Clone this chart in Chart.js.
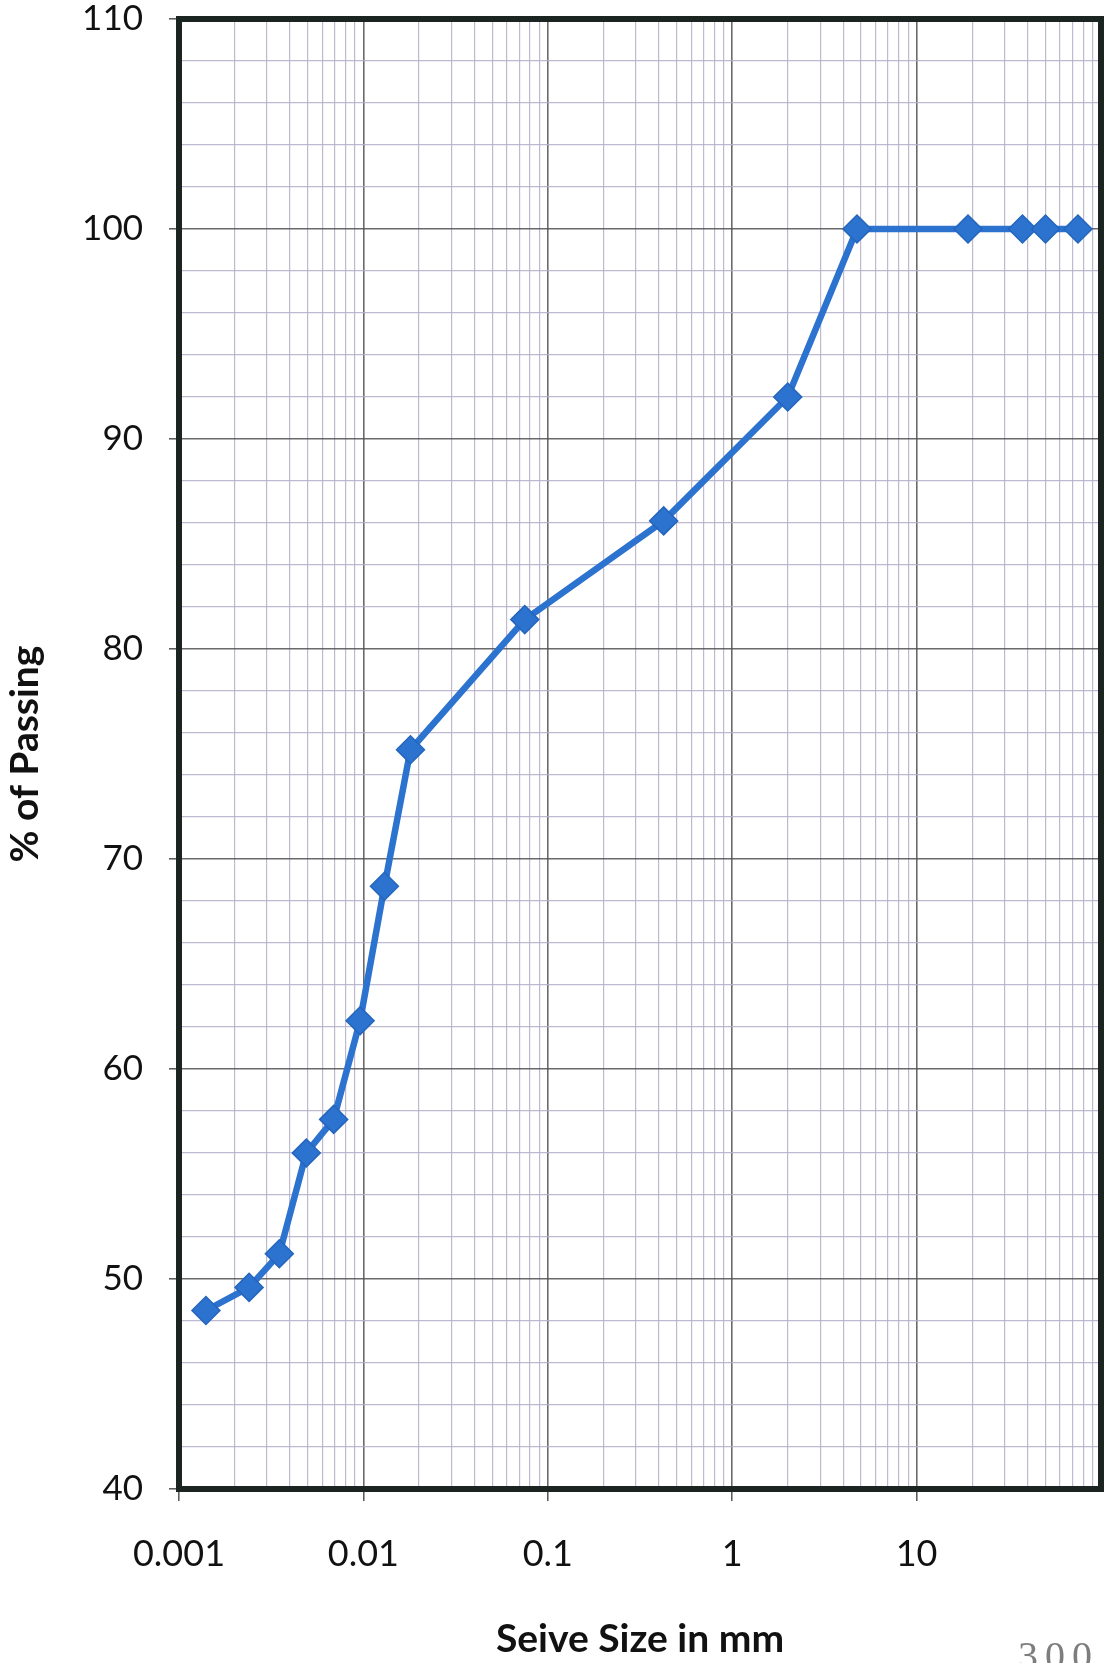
<!DOCTYPE html>
<html>
<head>
<meta charset="utf-8">
<title>Grain Size Distribution</title>
<script src="https://cdn.jsdelivr.net/npm/chart.js@4.4.1/dist/chart.umd.min.js"></script>
<style>
  html, body { margin: 0; padding: 0; background: #ffffff; }
  #wrap { position: relative; width: 1112px; height: 1663px; overflow: hidden; }
  #gradation { display: block; }
  #pageNo {
    position: absolute; left: 1018px; top: 1632px;
    font-family: "Liberation Serif", serif; font-size: 40px; letter-spacing: 7px;
    color: #7d7d7d;
  }
</style>
</head>
<body>
<div id="wrap">
  <canvas id="gradation" width="1112" height="1663"></canvas>
  <div id="pageNo">300</div>
</div>
<script>
// Sieve / hydrometer results
const sieveSize = [0.0014, 0.0024, 0.0035, 0.0049, 0.0069, 0.0096, 0.013, 0.018, 0.075, 0.425, 2.0, 4.75, 19, 37.5, 50, 75];
const percentPassing = [48.5, 49.6, 51.2, 56.0, 57.6, 62.3, 68.7, 75.2, 81.4, 86.1, 92.0, 100, 100, 100, 100, 100];

// Axis settings
const decadeLabels = [0.001, 0.01, 0.1, 1, 10];
const xMin = 0.001, xMax = 100;
const yMin = 40, yMax = 110, yMinorStep = 2, yMajorStep = 10;
const xTitle = 'Seive Size in mm';
const yTitle = '% of Passing';

// 1..9 x 10^n grid positions for the log axis
const logGridValues = [];
for (let e = -3; e <= 1; e++) {
  for (let k = 1; k <= 9; k++) logGridValues.push(Number((k * Math.pow(10, e)).toPrecision(6)));
}
logGridValues.push(xMax);

const isDecade = v => Math.abs(Math.log10(v) - Math.round(Math.log10(v))) < 1e-9;

const MAJOR_GRID = 'rgba(80,80,80,0.85)';
const MINOR_GRID = 'rgba(180,174,200,0.85)';
const LINE_BLUE = '#2c72cf';

// heavy plot-area frame
const frame = {
  id: 'frame',
  beforeDatasetsDraw(chart) {
    const { ctx, chartArea: a } = chart;
    ctx.save();
    ctx.strokeStyle = '#1c2422';
    ctx.lineWidth = 6;
    ctx.strokeRect(a.left, a.top, a.right - a.left, a.bottom - a.top);
    ctx.restore();
  }
};

new Chart(document.getElementById('gradation'), {
  type: 'line',
  data: {
    datasets: [{
      data: sieveSize.map((s, i) => ({ x: s, y: percentPassing[i] })),
      borderColor: LINE_BLUE,
      borderWidth: 6.5,
      backgroundColor: LINE_BLUE,
      pointStyle: 'rectRot',
      pointRadius: 14,
      pointBorderColor: '#2566bd',
      pointBorderWidth: 1.5,
      pointBackgroundColor: LINE_BLUE,
      tension: 0,
      fill: false
    }]
  },
  options: {
    responsive: false,
    animation: false,
    devicePixelRatio: 1,
    layout: { autoPadding: false, padding: { top: 19, right: 11, left: 0, bottom: 0 } },
    plugins: { legend: { display: false }, tooltip: { enabled: false } },
    scales: {
      x: {
        type: 'logarithmic',
        min: xMin,
        max: xMax,
        afterBuildTicks(scale) { scale.ticks = logGridValues.map(v => ({ value: v, major: isDecade(v) })); },
        afterFit(scale) {
          scale.height = 174;
          scale.paddingLeft = 0;
          scale.paddingRight = 0;
        },
        grid: {
          drawOnChartArea: true,
          color: c => (c.tick && isDecade(c.tick.value)) ? MAJOR_GRID : MINOR_GRID,
          lineWidth: c => (c.tick && isDecade(c.tick.value)) ? 1.6 : 1.2,
          tickColor: c => (c.tick && isDecade(c.tick.value) && c.tick.value < xMax) ? '#555' : 'rgba(0,0,0,0)',
          tickLength: 12,
          tickWidth: 1.5
        },
        border: { display: false },
        ticks: {
          autoSkip: false,
          maxRotation: 0,
          minRotation: 0,
          padding: 32,
          color: '#111',
          font: { family: 'Lato, "Noto Sans", sans-serif', size: 36 },
          callback(value) {
            const hit = decadeLabels.find(d => Math.abs(d - value) / d < 1e-6);
            return hit !== undefined ? String(hit) : '';
          }
        },
        title: {
          display: true,
          text: xTitle,
          color: '#111',
          font: { family: 'Lato, "Noto Sans", sans-serif', size: 39, weight: 'bold' },
          padding: { top: 0, bottom: 0 }
        }
      },
      y: {
        type: 'linear',
        min: yMin,
        max: yMax,
        afterFit(scale) {
          scale.width = 179;
          scale.paddingTop = 0;
          scale.paddingBottom = 0;
        },
        ticks: {
          stepSize: yMinorStep,
          autoSkip: false,
          padding: 26,
          color: '#111',
          font: { family: 'Lato, "Noto Sans", sans-serif', size: 35, lineHeight: 1.05 },
          callback: v => (v % yMajorStep === 0 ? String(v) : '')
        },
        grid: {
          color: c => (c.tick && c.tick.value % yMajorStep === 0) ? MAJOR_GRID : MINOR_GRID,
          lineWidth: c => (c.tick && c.tick.value % yMajorStep === 0) ? 1.6 : 1.2,
          tickColor: c => (c.tick && c.tick.value % yMajorStep === 0) ? '#555' : 'rgba(0,0,0,0)',
          tickLength: 10,
          tickWidth: 1.5
        },
        border: { display: false },
        title: {
          display: true,
          text: yTitle,
          color: '#111',
          font: { family: 'Lato, "Noto Sans", sans-serif', size: 39, weight: 'bold' },
          padding: { top: 2, bottom: 0 }
        }
      }
    }
  },
  plugins: [frame]
});
</script>
</body>
</html>
